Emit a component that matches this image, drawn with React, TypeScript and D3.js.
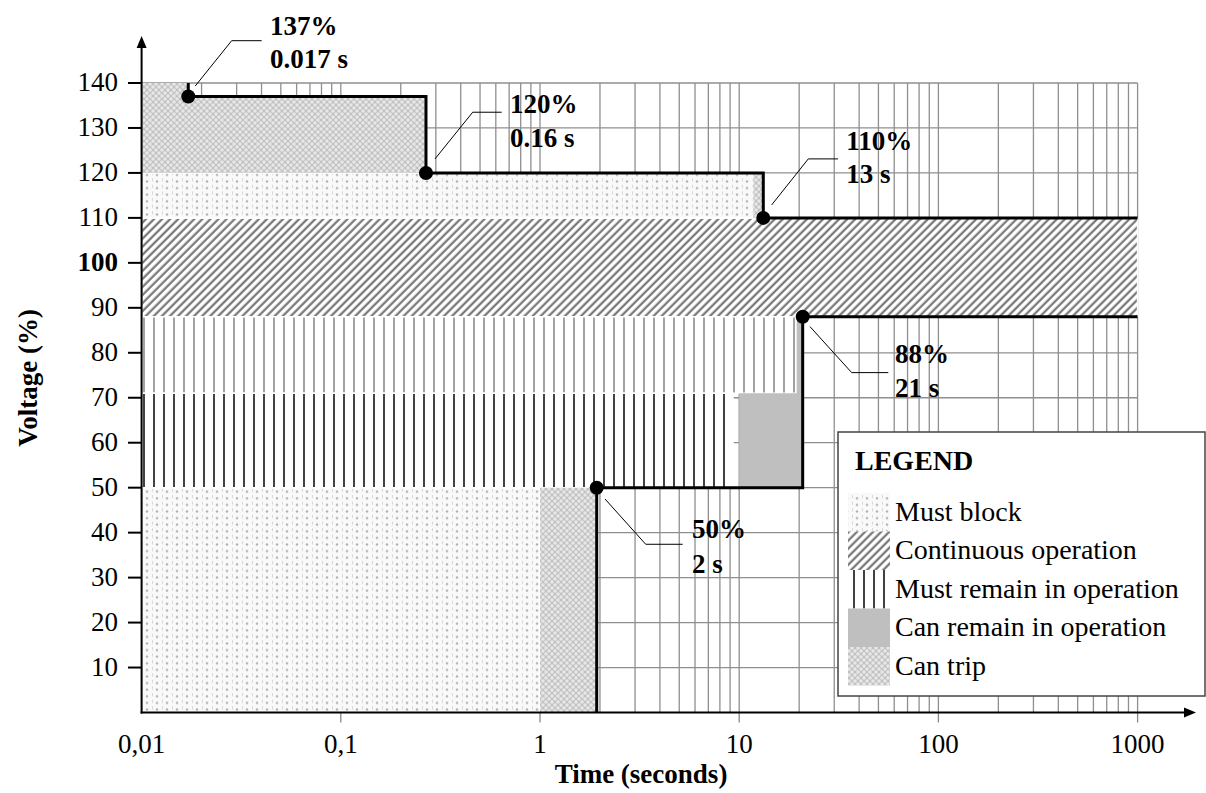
import * as d3 from "d3";

// time axis (seconds, log) and voltage axis (%)
const xTickValues = [0.01, 0.1, 1, 10, 100, 1000];
const xTickLabels = ["0,01", "0,1", "1", "10", "100", "1000"];
const yTickValues = [10, 20, 30, 40, 50, 60, 70, 80, 90, 100, 110, 120, 130, 140];

// limit curves [time s, voltage %]
const upperLimit: [number, number][] = [
  [0.01715, 140], [0.01715, 137], [0.2677, 137], [0.2677, 120],
  [13.21, 120], [13.21, 110], [1000, 110],
];
const lowerLimit: [number, number][] = [
  [1.926, 0], [1.926, 50], [20.83, 50], [20.83, 88], [1000, 88],
];

// marked points
const markerTimes = [0.01715, 0.2677, 13.21, 20.83, 1.926];
const markerVolts = [137, 120, 110, 88, 50];
const markerPct = ["137%", "120%", "110%", "88%", "50%"];
const markerSec = ["0.017 s", "0.16 s", "13 s", "21 s", "2 s"];

// zones as polygons [time, voltage]
const zoneMustBlock: [number, number][][] = [
  [[0.01, 110], [11.76, 110], [11.76, 120], [0.01, 120]],
  [[0.01, 0], [1, 0], [1, 50], [0.01, 50]],
];
const zoneContinuous: [number, number][][] = [
  [[0.01, 88], [1000, 88], [1000, 110], [0.01, 110]],
];
const zoneMustRemainUpper: [number, number][][] = [
  [[0.01, 71], [19.44, 71], [19.44, 88], [0.01, 88]],
];
const zoneMustRemainLower: [number, number][][] = [
  [[0.01, 50], [9.31, 50], [9.31, 71], [0.01, 71]],
];
const zoneCanRemain: [number, number][][] = [
  [[10, 50], [20.83, 50], [20.83, 88], [19.44, 88], [19.44, 71], [10, 71]],
];
const zoneCanTrip: [number, number][][] = [
  [[0.01, 120], [0.2677, 120], [0.2677, 137], [0.01715, 137], [0.01715, 140], [0.01, 140]],
  [[11.76, 110], [13.21, 110], [13.21, 120], [11.76, 120]],
  [[1, 0], [1.926, 0], [1.926, 50], [1, 50]],
];

const legendLabels = [
  "Must block",
  "Continuous operation",
  "Must remain in operation",
  "Can remain in operation",
  "Can trip",
];
const legendFills = ["url(#mustBlock)", "url(#continuous)", "url(#mustRemain)", "#bfbfbf", "url(#canTrip)"];

// leader line offsets from each marker (px): start, elbow, end, text x, baselines
const leaderLayout = [
  { s: [7, -10.5], e: [43.4, -55.8], h: 73.4, tx: 81.7, b1: -61.5, b2: -28.2 },
  { s: [9, -14], e: [46.7, -60.7], h: 75.7, tx: 84, b1: -59.7, b2: -26.3 },
  { s: [8.4, -13], e: [45, -59], h: 74.7, tx: 83, b1: -68, b2: -35 },
  { s: [7.3, 9.8], e: [49, 55.8], h: 85.6, tx: 92.3, b1: 46, b2: 79.8 },
  { s: [8.3, 11.3], e: [49, 56.6], h: 86, tx: 95.3, b1: 50.3, b2: 85.3 },
];

const FONT = "'Liberation Serif', 'Times New Roman', serif";

export default function App() {
  const width = 1206;
  const height = 793;
  const x = d3.scaleLog().domain([0.01, 1000]).range([141.6, 1137.6]);
  const y = d3.scaleLinear().domain([0, 140]).range([712.5, 83]);
  const x0 = x(0.01);
  const x1 = x(1000);
  const y0 = y(0);
  const yTop = y(140);

  const line = d3
    .line<[number, number]>()
    .x((d) => x(d[0]))
    .y((d) => y(d[1]));
  const poly = (p: [number, number][]) => line(p) + "Z";

  // minor log grid
  const vGrid: number[] = [];
  for (let e = -2; e <= 2; e++) {
    for (let k = 1; k <= 9; k++) vGrid.push(k * Math.pow(10, e));
  }
  vGrid.push(1000);

  const zone = (polys: [number, number][][], fill: string, key: string, stroke = true) =>
    polys.map((p, i) => (
      <path
        key={key + i}
        d={poly(p)}
        fill={fill}
        stroke={stroke ? "#fff" : "none"}
        strokeWidth={1.5}
      />
    ));

  const legX = 838;
  const legY = 432;
  const rowH = 38.5;

  return (
    <svg
      width={width}
      height={height}
      style={{ position: "absolute", left: 0, top: 0, background: "#fff" }}
      fontFamily={FONT}
    >
      <defs>
        <pattern id="mustBlock" width={10} height={6.6} patternUnits="userSpaceOnUse" x={142} y={0}>
          <rect width={10} height={6.6} fill="#f9f9f9" />
          <rect x={0} y={0} width={1} height={3.3} fill="#d8d8d8" />
          <circle cx={5} cy={3.3} r={1.2} fill="#b0b0b0" />
        </pattern>
        <pattern id="continuous" width={5.7} height={5.7} patternUnits="userSpaceOnUse" patternTransform="rotate(45)">
          <rect width={5.7} height={5.7} fill="#fff" />
          <line x1={1.6} y1={0} x2={1.6} y2={5.7} stroke="#6e6e6e" strokeWidth={2.1} />
        </pattern>
        <pattern id="mustRemainLight" width={10} height={10} patternUnits="userSpaceOnUse" x={142}>
          <rect width={10} height={10} fill="#fff" />
          <line x1={2} y1={0} x2={2} y2={10} stroke="#7a7a7a" strokeWidth={1.4} />
        </pattern>
        <pattern id="mustRemain" width={10} height={10} patternUnits="userSpaceOnUse" x={142}>
          <rect width={10} height={10} fill="#fff" />
          <line x1={2} y1={0} x2={2} y2={10} stroke="#111" strokeWidth={1.6} />
        </pattern>
        <pattern id="canTrip" width={6} height={6} patternUnits="userSpaceOnUse">
          <rect width={6} height={6} fill="#c2c2c2" />
          <circle cx={0} cy={0} r={1.8} fill="#e8e8e8" />
          <circle cx={6} cy={0} r={1.8} fill="#e8e8e8" />
          <circle cx={0} cy={6} r={1.8} fill="#e8e8e8" />
          <circle cx={6} cy={6} r={1.8} fill="#e8e8e8" />
          <circle cx={3} cy={3} r={1.8} fill="#e8e8e8" />
        </pattern>
      </defs>

      {/* grid */}
      <g stroke="#8f8f8f" strokeWidth={1.3}>
        {vGrid.map((t) => (
          <line key={"v" + t} x1={x(t)} x2={x(t)} y1={y0} y2={yTop} />
        ))}
        {yTickValues.map((v) => (
          <line key={"h" + v} x1={x0} x2={x1} y1={y(v)} y2={y(v)} />
        ))}
      </g>

      {/* zones */}
      {zone(zoneContinuous, "url(#continuous)", "co")}
      {zone(zoneMustBlock, "url(#mustBlock)", "mb")}
      {zone(zoneMustRemainUpper, "url(#mustRemainLight)", "mru")}
      {zone(zoneMustRemainLower, "url(#mustRemain)", "mrl")}
      {zone(zoneCanRemain, "#bfbfbf", "cr", false)}
      {zone(zoneCanTrip, "url(#canTrip)", "ct", false)}

      {/* limit curves */}
      <path d={line(upperLimit) ?? ""} fill="none" stroke="#000" strokeWidth={3} />
      <path d={line(lowerLimit) ?? ""} fill="none" stroke="#000" strokeWidth={3} />

      {/* markers and labels */}
      {markerTimes.map((t, i) => {
        const px = x(t);
        const py = y(markerVolts[i]);
        const L = leaderLayout[i];
        return (
          <g key={"m" + i}>
            <polyline
              points={`${px + L.s[0]},${py + L.s[1]} ${px + L.e[0]},${py + L.e[1]} ${px + L.h},${py + L.e[1]}`}
              fill="none"
              stroke="#000"
              strokeWidth={1}
            />
            <circle cx={px} cy={py} r={7} fill="#000" />
            <text x={px + L.tx} y={py + L.b1} fontSize={27} fontWeight="bold">
              {markerPct[i]}
            </text>
            <text x={px + L.tx} y={py + L.b2} fontSize={27} fontWeight="bold">
              {markerSec[i]}
            </text>
          </g>
        );
      })}

      {/* legend */}
      <rect x={legX} y={legY} width={367} height={264} fill="#fff" stroke="#444" strokeWidth={1.5} />
      <text x={855} y={470} fontSize={28} fontWeight="bold">
        LEGEND
      </text>
      {legendLabels.map((lab, i) => (
        <g key={lab}>
          <rect x={848} y={493 + i * rowH} width={42} height={rowH} fill={legendFills[i]} />
          <text x={895} y={520.5 + i * rowH} fontSize={28}>
            {lab}
          </text>
        </g>
      ))}

      {/* axes */}
      <g stroke="#888" strokeWidth={1.3}>
        {xTickValues.slice(1).map((t) => (
          <line key={"xt" + t} x1={x(t)} x2={x(t)} y1={y0} y2={y0 + 10} />
        ))}
      </g>
      <g stroke="#000" strokeWidth={2}>
        {yTickValues.map((v) => (
          <line key={"yt" + v} x1={128} x2={x0} y1={y(v)} y2={y(v)} />
        ))}
        <line x1={x0} x2={x0} y1={y0 + 1} y2={44} />
        <line x1={x0 - 1} x2={1186} y1={y0} y2={y0} />
      </g>
      <path d={`M${x0},36 L${x0 - 5},48 L${x0 + 5},48 Z`} fill="#000" />
      <path d={`M1196,${y0} L1184,${y0 - 5} L1184,${y0 + 5} Z`} fill="#000" />

      {xTickValues.map((t, i) => (
        <text key={"xl" + t} x={x(t)} y={753} fontSize={27} textAnchor="middle">
          {xTickLabels[i]}
        </text>
      ))}
      {yTickValues.map((v) => (
        <text
          key={"yl" + v}
          x={118}
          y={y(v) + 8}
          fontSize={27}
          textAnchor="end"
          fontWeight={v === 100 ? "bold" : "normal"}
        >
          {v}
        </text>
      ))}

      <text x={641} y={783} fontSize={27} fontWeight="bold" textAnchor="middle">
        Time (seconds)
      </text>
      <text
        transform="translate(37,378) rotate(-90)"
        fontSize={27}
        fontWeight="bold"
        textAnchor="middle"
      >
        Voltage (%)
      </text>
    </svg>
  );
}
